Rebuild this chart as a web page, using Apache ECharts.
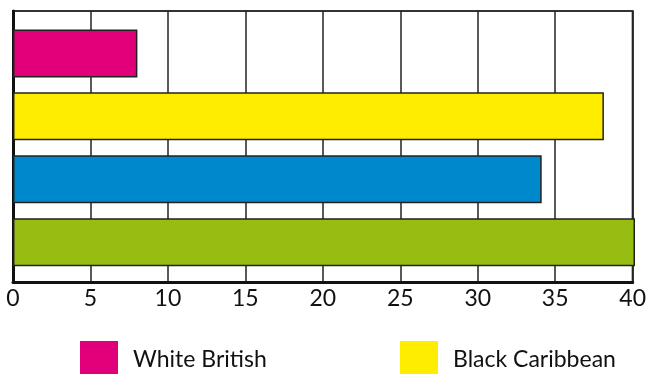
<!DOCTYPE html>
<html>
<head>
<meta charset="utf-8">
<script src="https://cdn.jsdelivr.net/npm/echarts@6/dist/echarts.min.js"></script>
<style>
  html, body { margin: 0; padding: 0; background: #fff; }
  #container { width: 649px; height: 374px; }
</style>
</head>
<body>
<div id="container"></div>
<script>
    var groups = ["White British", "Black Caribbean", "Group 3", "Group 4"];
    var values = [8, 38, 34, 40];
    var colors = ["#e2007a", "#ffed00", "#0088cc", "#98bd12"];
    var legend_names = ["White British", "Black Caribbean"];
    var ticks = [0, 40, 5];  // min, max, interval

    var myChart = echarts.init(document.getElementById("container"));

    var bar_data = [];
    for (var i = 0; i < values.length; i++) {
        bar_data.push({ value: values[i], itemStyle: { color: colors[i] } });
    }

    /* dummy series so the legend gets coloured squares */
    var legend_series = [];
    for (var j = 0; j < legend_names.length; j++) {
        legend_series.push({
            name: legend_names[j],
            type: 'line',
            xAxisIndex: 1,
            yAxisIndex: 1,
            data: [],
            itemStyle: { color: colors[j] },
            lineStyle: { color: colors[j] }
        });
    }

    var legend_text = { fontSize: 23, color: '#111', fontFamily: 'Lato', padding: [0, 0, 0, 10] };

    myChart.setOption({
        animation: false,
        grid: [
            { left: 13, right: 14, top: 11, bottom: 92, show: true, borderColor: '#333', borderWidth: 2 },
            { left: 13, right: 14, top: 22, height: 251.6 }
        ],
        legend: [
            { data: [legend_names[0]], left: 80, top: 341, padding: 0, icon: 'rect', itemWidth: 38, itemHeight: 38, textStyle: legend_text },
            { data: [legend_names[1]], left: 400, top: 341, padding: 0, icon: 'rect', itemWidth: 38, itemHeight: 38, textStyle: legend_text }
        ],
        xAxis: [
            {
                gridIndex: 0, type: 'value', min: ticks[0], max: ticks[1], interval: ticks[2],
                axisLine: { show: true, lineStyle: { color: '#111', width: 3 } },
                axisTick: { show: false },
                splitLine: { show: true, lineStyle: { color: '#222', width: 1.5 } },
                axisLabel: { fontSize: 23, color: '#111', fontFamily: 'Lato', margin: 5 }
            },
            { gridIndex: 1, type: 'value', min: ticks[0], max: ticks[1], show: false, splitLine: { show: false } }
        ],
        yAxis: [
            {
                gridIndex: 0, type: 'value', min: 0, max: 1,
                axisLine: { show: true, lineStyle: { color: '#111', width: 3 } },
                axisTick: { show: false }, axisLabel: { show: false }, splitLine: { show: false }
            },
            { gridIndex: 1, type: 'category', data: groups, inverse: true, show: false }
        ],
        series: [
            {
                type: 'bar',
                xAxisIndex: 1,
                yAxisIndex: 1,
                barWidth: 48,
                data: bar_data,
                itemStyle: { borderColor: '#222', borderWidth: 1.5 }
            }
        ].concat(legend_series)
    });
</script>
</body>
</html>
